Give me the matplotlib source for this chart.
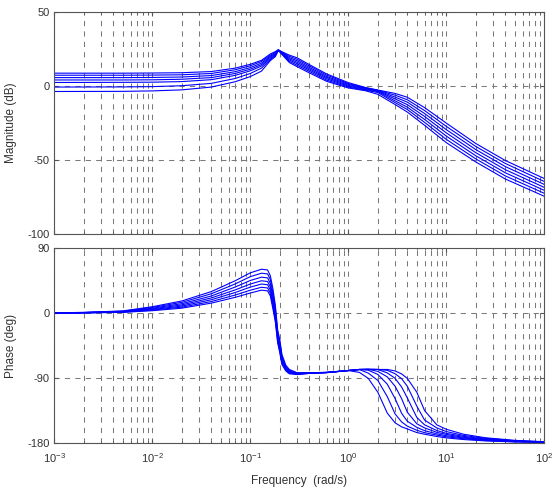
#!/usr/bin/env python3
"""
Bode diagram of a family of seven responses (magnitude and phase),
drawn in the style of a MATLAB bode() plot.
"""

import matplotlib
matplotlib.use('Agg')
import matplotlib.pyplot as plt
from matplotlib.ticker import LogLocator, NullFormatter, FixedLocator

# --- data --------------------------------------------------------------
# frequencies (rad/s) at which the magnitude curves were read
freq_mag = [0.001, 0.005, 0.01, 0.02, 0.04, 0.07, 0.1, 0.13, 0.16, 0.18, 0.193,
            0.21, 0.25, 0.3, 0.4, 0.6, 1.0, 1.5, 2.0, 3.0, 4.0, 6.0, 10, 20, 40, 100]

# magnitude (dB), one list per curve
mag_1 = [8.8, 8.8, 8.9, 9.1, 9.9, 12.2, 14.8, 17.5, 21.8, 23.4, 24.6, 23.3, 21.0,
         19.2, 14.6, 8.3, 2.4, -0.9, -2.6, -4.9, -7.5, -14.5, -25.0, -38.8, -50.3, -62.5]
mag_2 = [7.4, 7.4, 7.5, 7.7, 8.6, 11.1, 13.8, 16.7, 21.0, 22.8, 24.5, 23.0, 20.2,
         18.2, 13.7, 7.5, 1.8, -1.2, -2.8, -6.1, -9.2, -16.5, -27.2, -40.8, -52.3, -64.5]
mag_3 = [5.8, 5.8, 5.9, 6.2, 7.2, 9.8, 12.6, 15.6, 20.3, 22.2, 24.5, 22.7, 19.3,
         17.2, 12.7, 6.6, 1.2, -1.5, -3.0, -7.4, -10.8, -18.5, -29.4, -42.9, -54.4, -66.5]
mag_4 = [4.2, 4.2, 4.3, 4.7, 5.8, 8.6, 11.5, 14.6, 19.6, 21.7, 24.4, 22.4, 18.5,
         16.2, 11.8, 5.8, 0.6, -1.9, -3.3, -8.6, -12.5, -20.5, -31.6, -45.0, -56.5, -68.5]
mag_5 = [2.5, 2.6, 2.7, 3.1, 4.4, 7.3, 10.4, 13.6, 18.8, 21.1, 24.4, 22.1, 17.7,
         15.2, 10.9, 5.0, 0.0, -2.3, -3.7, -9.9, -14.2, -22.5, -33.8, -47.1, -58.6, -70.5]
mag_6 = [-0.6, -0.5, -0.3, 0.3, 1.9, 5.2, 8.6, 12.2, 18.0, 20.6, 24.3, 21.8, 16.8,
         14.2, 10.0, 4.1, -0.6, -2.7, -4.3, -11.1, -15.8, -24.5, -36.0, -49.2, -60.7, -72.5]
mag_7 = [-3.6, -3.5, -3.2, -2.5, -0.6, 3.0, 6.5, 10.2, 17.3, 20.0, 24.2, 21.5, 16.0,
         13.2, 9.0, 3.3, -1.2, -3.1, -5.5, -12.4, -17.5, -26.5, -38.2, -51.3, -62.8, -74.5]

# frequencies (rad/s) at which the phase curves were read
freq_phase = [0.001, 0.002, 0.005, 0.01, 0.02, 0.04, 0.07, 0.1, 0.13, 0.15, 0.16,
              0.17, 0.18, 0.19, 0.2, 0.21, 0.23, 0.25, 0.3, 0.4, 0.6, 1.0, 1.3,
              1.6, 2.0, 2.5, 3.0, 3.5, 4.0, 5.0, 6.0, 8.0, 10, 15, 25, 50, 100]

# phase (deg), one list per curve
phase_1 = [0.2, 0.4, 1.2, 3.5, 7.0, 14.0, 22.0, 28.0, 32.0, 31.0, 24.0, 6.0, -12.0,
           -41.0, -55.0, -71.0, -80.0, -84.0, -85.0, -83.5, -82.5, -79.5, -78.0,
           -77.8, -78.0, -78.0, -80.0, -84.2, -90.4, -109.6, -135.0, -154.8,
           -161.0, -167.8, -172.7, -176.3, -178.2]
phase_2 = [0.2, 0.5, 1.5, 4.3, 8.4, 16.2, 25.2, 31.9, 36.0, 35.0, 27.9, 9.9, -8.8,
           -38.5, -52.5, -69.1, -78.9, -83.2, -84.7, -83.4, -82.4, -79.5, -78.0,
           -77.8, -78.0, -79.2, -83.9, -90.8, -101.3, -128.9, -148.2, -159.1,
           -164.1, -169.5, -173.5, -176.8, -178.4]
phase_3 = [0.3, 0.6, 1.8, 5.1, 9.9, 18.7, 28.7, 36.2, 40.5, 39.5, 32.2, 14.2, -5.3,
           -35.7, -49.7, -66.9, -77.7, -82.2, -84.3, -83.2, -82.3, -79.5, -78.0,
           -77.8, -78.0, -82.8, -90.3, -102.4, -117.5, -144.6, -154.8, -162.7,
           -166.6, -170.8, -174.5, -177.2, -178.6]
phase_4 = [0.3, 0.8, 2.1, 6.0, 11.5, 21.2, 32.3, 40.5, 45.0, 44.0, 36.5, 18.5, -1.7,
           -32.9, -46.9, -64.7, -76.4, -81.3, -83.9, -83.0, -82.2, -79.5, -78.0,
           -77.8, -80.7, -88.3, -101.3, -118.6, -137.3, -153.3, -159.1, -165.2,
           -168.1, -172.1, -175.3, -177.4, -178.7]
phase_5 = [0.4, 0.9, 2.4, 6.9, 13.2, 23.9, 36.3, 45.4, 50.0, 49.0, 41.4, 23.4, 2.3,
           -29.8, -43.8, -62.3, -75.0, -80.3, -83.4, -82.9, -82.1, -79.5, -78.0,
           -79.1, -84.9, -98.5, -118.4, -138.9, -149.8, -158.3, -162.9, -167.3,
           -169.9, -173.1, -175.7, -177.7, -178.9]
phase_6 = [0.4, 1.0, 2.8, 8.0, 15.1, 27.0, 40.6, 50.7, 55.5, 54.5, 46.7, 28.7, 6.6,
           -26.4, -40.4, -59.7, -73.5, -79.1, -83.0, -82.7, -82.1, -79.5, -78.2,
           -83.1, -93.2, -115.8, -139.6, -150.8, -156.6, -162.3, -165.7, -169.1,
           -171.3, -174.1, -176.5, -178.3, -179.1]
phase_7 = [0.5, 1.2, 3.2, 9.0, 17.0, 30.0, 45.0, 56.0, 61.0, 60.0, 52.0, 34.0, 11.0,
           -23.0, -37.0, -57.0, -72.0, -78.0, -82.5, -82.5, -82.0, -79.5, -82.1,
           -90.4, -109.6, -138.6, -152.0, -157.6, -160.5, -165.5, -167.8, -171.0,
           -172.9, -175.2, -177.1, -178.5, -179.3]

mag_ticks = [-100, -50, 0, 50]
phase_ticks = [-180, -90, 0, 90]

# --- figure --------------------------------------------------------------
plt.rcParams['font.family'] = ['Liberation Sans', 'DejaVu Sans']
plt.rcParams['axes.unicode_minus'] = False
plt.rcParams['mathtext.fontset'] = 'custom'
plt.rcParams['mathtext.rm'] = 'Liberation Sans'

fig = plt.figure(figsize=(5.52, 4.93), dpi=100)
ax_mag = fig.add_axes([0.0984, 0.5254, 0.8877, 0.4497])
ax_ph = fig.add_axes([0.0984, 0.1014, 0.8877, 0.3949])

line_kw = dict(color='#0000ff', linewidth=0.8)
for m in (mag_1, mag_2, mag_3, mag_4, mag_5, mag_6, mag_7):
    ax_mag.semilogx(freq_mag, m, **line_kw)
for p in (phase_1, phase_2, phase_3, phase_4, phase_5, phase_6, phase_7):
    ax_ph.semilogx(freq_phase, p, **line_kw)

frame = '#555555'
text_col = '#333333'
for ax, ticks, lims in ((ax_mag, mag_ticks, (-100, 50)),
                        (ax_ph, phase_ticks, (-180, 90))):
    ax.set_xscale('log')
    ax.set_xlim(1e-3, 1e2)
    ax.set_ylim(*lims)
    ax.yaxis.set_major_locator(FixedLocator(ticks))
    ax.xaxis.set_major_locator(LogLocator(base=10, numticks=10))
    ax.xaxis.set_minor_locator(LogLocator(base=10, subs=range(2, 10), numticks=10))
    ax.xaxis.set_minor_formatter(NullFormatter())
    ax.grid(True, which='both', axis='x', color='#7a7a7a',
            linestyle=(0, (5, 5)), linewidth=0.75)
    ax.grid(True, which='major', axis='y', color='#7a7a7a',
            linestyle=(0, (5, 5)), linewidth=0.75)
    ax.set_axisbelow(True)
    ax.tick_params(which='both', direction='in', top=True, right=True,
                   color=frame, labelcolor=text_col, labelsize=8)
    ax.tick_params(which='major', length=3)
    ax.tick_params(which='minor', length=1.5)
    ax.tick_params(axis='x', which='major', pad=6)
    for s in ax.spines.values():
        s.set_color(frame)
        s.set_linewidth(0.8)

ax_mag.tick_params(labelbottom=False)

ax_mag.set_ylabel('Magnitude (dB)', fontsize=8.5, color=text_col)
ax_ph.set_ylabel('Phase (deg)', fontsize=8.5, color=text_col)
ax_mag.yaxis.set_label_coords(-0.076, 0.5)
ax_ph.yaxis.set_label_coords(-0.076, 0.5)
ax_ph.set_xlabel('Frequency  (rad/s)', fontsize=8.5, color=text_col)
ax_ph.xaxis.set_label_coords(0.5, -0.165)

fig.savefig('out.png', dpi=100)
plt.close(fig)
